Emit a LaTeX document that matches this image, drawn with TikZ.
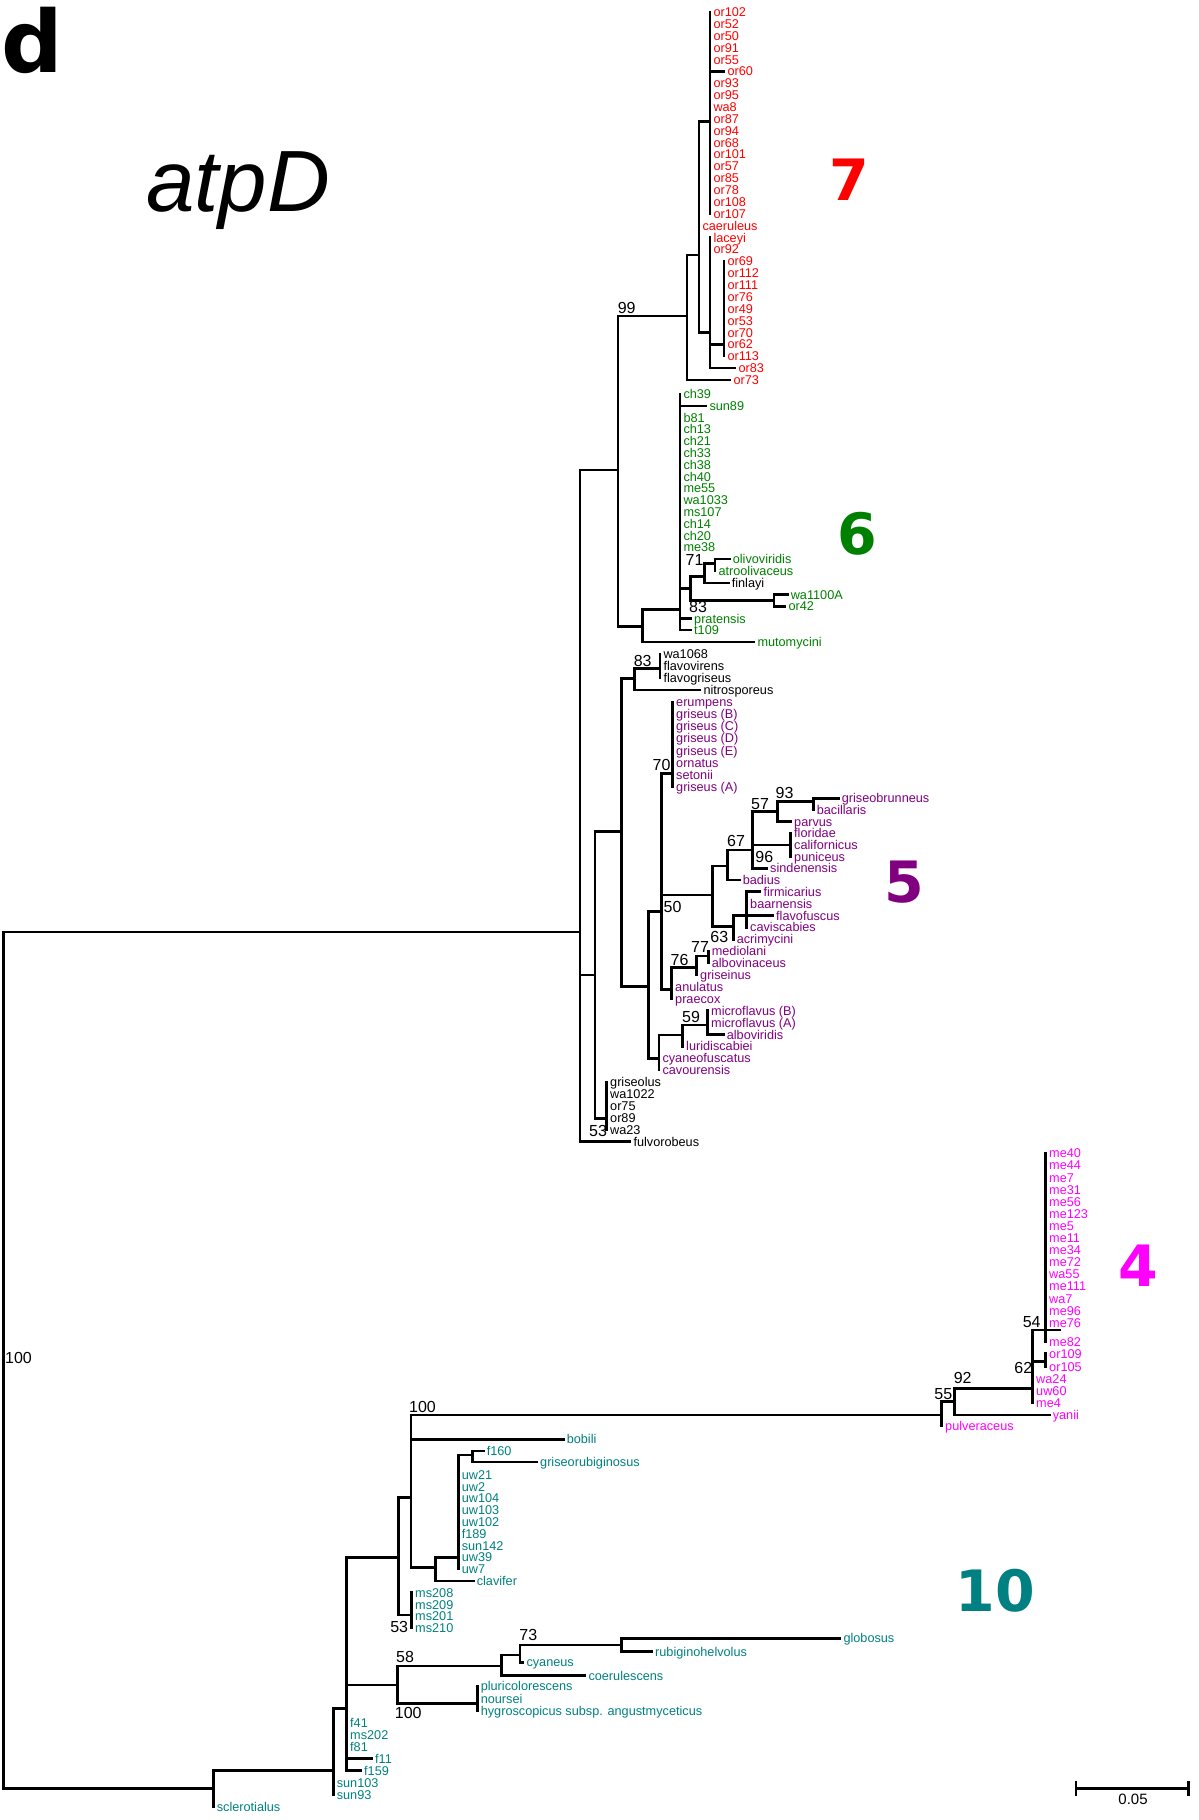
\documentclass[tikz,border=0pt]{standalone}
\usepackage{fontspec}
\setmainfont{Liberation Sans}
\newfontfamily\dvs{DejaVu Sans}
\definecolor{c7}{RGB}{255,0,0}
\definecolor{c6}{RGB}{0,128,0}
\definecolor{c5}{RGB}{128,0,128}
\definecolor{c4}{RGB}{255,0,255}
\definecolor{c10}{RGB}{0,128,128}
\newcommand\leafx[5]{\coordinate (#1) at (#2,#3);\node[lab,text=#5] (#1t) at ({#2+3.3},{#3+4.5}) {#4};}
\tikzset{
  br/.style={line width=2.5pt, line cap=rect, black},
  lab/.style={anchor=base west, inner sep=0pt, font=\fontsize{12.7}{14}\selectfont},
  bs/.style={anchor=center, inner sep=0pt, font=\fontsize{16}{16}\selectfont},
  big/.style={anchor=center, inner sep=0pt, font=\dvs\bfseries\fontsize{57}{57}\selectfont}
}
\begin{document}
\begin{tikzpicture}[x=1pt,y=-1pt]
\useasboundingbox (0,0) rectangle (1199,1820);
% ---------- leaves: clade 7
\leafx{L0}{710}{12.0}{or102}{c7}
\leafx{L1}{710}{23.9}{or52}{c7}
\leafx{L2}{710}{35.7}{or50}{c7}
\leafx{L3}{710}{47.6}{or91}{c7}
\leafx{L4}{710}{59.5}{or55}{c7}
\leafx{L5}{724}{71.4}{or60}{c7}
\leafx{L6}{710}{83.2}{or93}{c7}
\leafx{L7}{710}{95.1}{or95}{c7}
\leafx{L8}{710}{107.0}{wa8}{c7}
\leafx{L9}{710}{118.8}{or87}{c7}
\leafx{L10}{710}{130.7}{or94}{c7}
\leafx{L11}{710}{142.6}{or68}{c7}
\leafx{L12}{710}{154.4}{or101}{c7}
\leafx{L13}{710}{166.3}{or57}{c7}
\leafx{L14}{710}{178.2}{or85}{c7}
\leafx{L15}{710}{190.1}{or78}{c7}
\leafx{L16}{710}{201.9}{or108}{c7}
\leafx{L17}{710}{213.8}{or107}{c7}
\leafx{L18}{699}{225.7}{caeruleus}{c7}
\leafx{L19}{710}{237.5}{laceyi}{c7}
\leafx{L20}{710}{249.4}{or92}{c7}
\leafx{L21}{724}{261.3}{or69}{c7}
\leafx{L22}{724}{273.1}{or112}{c7}
\leafx{L23}{724}{285.0}{or111}{c7}
\leafx{L24}{724}{296.9}{or76}{c7}
\leafx{L25}{724}{308.8}{or49}{c7}
\leafx{L26}{724}{320.6}{or53}{c7}
\leafx{L27}{724}{332.5}{or70}{c7}
\leafx{L28}{724}{344.4}{or62}{c7}
\leafx{L29}{724}{356.2}{or113}{c7}
\leafx{L30}{735}{368.1}{or83}{c7}
\leafx{L31}{730}{380.0}{or73}{c7}
% ---------- clade 6
\leafx{L32}{680}{394.0}{ch39}{c6}
\leafx{L33}{706}{405.8}{sun89}{c6}
\leafx{L34}{680}{417.6}{b81}{c6}
\leafx{L35}{680}{429.4}{ch13}{c6}
\leafx{L36}{680}{441.2}{ch21}{c6}
\leafx{L37}{680}{453.0}{ch33}{c6}
\leafx{L38}{680}{464.8}{ch38}{c6}
\leafx{L39}{680}{476.6}{ch40}{c6}
\leafx{L40}{680}{488.4}{me55}{c6}
\leafx{L41}{680}{500.2}{wa1033}{c6}
\leafx{L42}{680}{512.0}{ms107}{c6}
\leafx{L43}{680}{523.8}{ch14}{c6}
\leafx{L44}{680}{535.6}{ch20}{c6}
\leafx{L45}{680}{547.4}{me38}{c6}
\leafx{L46}{729.3}{559.2}{olivoviridis}{c6}
\leafx{L47}{715}{571.0}{atroolivaceus}{c6}
\leafx{L48}{728.3}{582.8}{finlayi}{black}
\leafx{L49}{787.3}{594.6}{wa1100A}{c6}
\leafx{L50}{785}{606.4}{or42}{c6}
\leafx{L51}{690.7}{618.6}{pratensis}{c6}
\leafx{L52}{690.7}{630.2}{t109}{c6}
\leafx{L53}{754}{641.8}{mutomycini}{c6}
% ---------- clade 5 and others
\leafx{L54}{660}{654.0}{wa1068}{black}
\leafx{L55}{660}{666.1}{flavovirens}{black}
\leafx{L56}{660}{678.1}{flavogriseus}{black}
\leafx{L57}{700}{690.2}{nitrosporeus}{black}
\leafx{L58}{672.7}{702.2}{erumpens}{c5}
\leafx{L59}{672.7}{714.3}{griseus (B)}{c5}
\leafx{L60}{672.7}{726.4}{griseus (C)}{c5}
\leafx{L61}{672.7}{738.4}{griseus (D)}{c5}
\leafx{L62}{672.7}{750.5}{griseus (E)}{c5}
\leafx{L63}{672.7}{762.5}{ornatus}{c5}
\leafx{L64}{672.7}{774.6}{setonii}{c5}
\leafx{L65}{672.7}{786.7}{griseus (A)}{c5}
\leafx{L66}{838.3}{798.4}{griseobrunneus}{c5}
\leafx{L67}{813.3}{810.0}{bacillaris}{c5}
\leafx{L68}{790.7}{821.7}{parvus}{c5}
\leafx{L69}{790.7}{833.3}{floridae}{c5}
\leafx{L70}{790.7}{845.0}{californicus}{c5}
\leafx{L71}{790.7}{856.7}{puniceus}{c5}
\leafx{L72}{766.7}{868.3}{sindenensis}{c5}
\leafx{L73}{739.3}{880.0}{badius}{c5}
\leafx{L74}{760}{891.7}{firmicarius}{c5}
\leafx{L75}{746.7}{903.6}{baarnensis}{c5}
\leafx{L76}{772.7}{915.5}{flavofuscus}{c5}
\leafx{L77}{746.7}{927.4}{caviscabies}{c5}
\leafx{L78}{733.3}{939.3}{acrimycini}{c5}
\leafx{L79}{708.3}{951.2}{mediolani}{c5}
\leafx{L80}{708.3}{963.1}{albovinaceus}{c5}
\leafx{L81}{696.7}{975.0}{griseinus}{c5}
\leafx{L82}{671.7}{986.9}{anulatus}{c5}
\leafx{L83}{671.7}{998.8}{praecox}{c5}
\leafx{L84}{707.7}{1010.7}{microflavus (B)}{c5}
\leafx{L85}{707.7}{1022.6}{microflavus (A)}{c5}
\leafx{L86}{723.3}{1034.5}{alboviridis}{c5}
\leafx{L87}{682.7}{1046.4}{luridiscabiei}{c5}
\leafx{L88}{659}{1058.3}{cyaneofuscatus}{c5}
\leafx{L89}{659}{1070.2}{cavourensis}{c5}
\leafx{L90}{606.7}{1082.1}{griseolus}{black}
\leafx{L91}{606.7}{1094.0}{wa1022}{black}
\leafx{L92}{606.7}{1105.9}{or75}{black}
\leafx{L93}{606.7}{1117.8}{or89}{black}
\leafx{L94}{606.7}{1129.7}{wa23}{black}
\leafx{L95}{630}{1141.6}{fulvorobeus}{black}
% ---------- clade 4
\leafx{L96}{1045.7}{1153.3}{me40}{c4}
\leafx{L97}{1045.7}{1165.4}{me44}{c4}
\leafx{L98}{1045.7}{1177.5}{me7}{c4}
\leafx{L99}{1045.7}{1189.6}{me31}{c4}
\leafx{L100}{1045.7}{1201.7}{me56}{c4}
\leafx{L101}{1045.7}{1213.8}{me123}{c4}
\leafx{L102}{1045.7}{1225.9}{me5}{c4}
\leafx{L103}{1045.7}{1238.0}{me11}{c4}
\leafx{L104}{1045.7}{1250.1}{me34}{c4}
\leafx{L105}{1045.7}{1262.2}{me72}{c4}
\leafx{L106}{1045.7}{1274.3}{wa55}{c4}
\leafx{L107}{1045.7}{1286.4}{me111}{c4}
\leafx{L108}{1045.7}{1298.5}{wa7}{c4}
\leafx{L109}{1045.7}{1310.6}{me96}{c4}
\leafx{L110}{1045.7}{1322.7}{me76}{c4}
\leafx{L111}{1045.7}{1341.7}{me82}{c4}
\leafx{L112}{1045.7}{1353.7}{or109}{c4}
\leafx{L113}{1045.7}{1366.5}{or105}{c4}
\leafx{L114}{1032.7}{1379.0}{wa24}{c4}
\leafx{L115}{1032.7}{1391.0}{uw60}{c4}
\leafx{L116}{1032.7}{1403.0}{me4}{c4}
\leafx{L117}{1049.3}{1415.0}{yanii}{c4}
\leafx{L118}{941.7}{1426.0}{pulveraceus}{c4}
% ---------- clade 10
\leafx{L119}{563.3}{1439.3}{bobili}{c10}
\leafx{L120}{483.3}{1451.1}{f160}{c10}
\leafx{L121}{536.7}{1462.0}{griseorubiginosus}{c10}
\leafx{L122}{458.3}{1474.7}{uw21}{c10}
\leafx{L123}{458.3}{1486.5}{uw2}{c10}
\leafx{L124}{458.3}{1498.3}{uw104}{c10}
\leafx{L125}{458.3}{1510.1}{uw103}{c10}
\leafx{L126}{458.3}{1521.9}{uw102}{c10}
\leafx{L127}{458.3}{1533.7}{f189}{c10}
\leafx{L128}{458.3}{1545.5}{sun142}{c10}
\leafx{L129}{458.3}{1557.3}{uw39}{c10}
\leafx{L130}{458.3}{1569.1}{uw7}{c10}
\leafx{L131}{473.3}{1580.9}{clavifer}{c10}
\leafx{L132}{411.7}{1592.7}{ms208}{c10}
\leafx{L133}{411.7}{1604.5}{ms209}{c10}
\leafx{L134}{411.7}{1616.3}{ms201}{c10}
\leafx{L135}{411.7}{1628.1}{ms210}{c10}
\leafx{L136}{840}{1638.3}{globosus}{c10}
\leafx{L137}{651.7}{1651.5}{rubiginohelvolus}{c10}
\leafx{L138}{523}{1662.4}{cyaneus}{c10}
\leafx{L139}{585}{1675.5}{coerulescens}{c10}
\leafx{L140}{477.3}{1686.4}{pluricolorescens}{c10}
\leafx{L141}{477.3}{1698.5}{noursei}{c10}
\leafx{L142}{477.3}{1710.5}{hygroscopicus subsp. angustmyceticus}{c10}
\leafx{L143}{346.7}{1722.5}{f41}{c10}
\leafx{L144}{346.7}{1734.5}{ms202}{c10}
\leafx{L145}{346.7}{1746.6}{f81}{c10}
\leafx{L146}{371.7}{1758.6}{f11}{c10}
\leafx{L147}{360.7}{1770.6}{f159}{c10}
\leafx{L148}{333.3}{1782.7}{sun103}{c10}
\leafx{L149}{333.3}{1794.7}{sun93}{c10}
\leafx{L150}{213.3}{1806.7}{sclerotialus}{c10}
% ---------- internal nodes
\coordinate (n7a) at (710,121.7);
\coordinate (n7c) at (724,344.4);
\coordinate (n7b) at (710,332.3);
\coordinate (X1) at (699,255);
\coordinate (X0) at (687,316);
\coordinate (N99) at (618,470);
\coordinate (n6a) at (680,609.3);
\coordinate (n83a) at (690.7,588.3);
\coordinate (n71) at (704.3,576.7);
\coordinate (nOA) at (715,563.3);
\coordinate (nW) at (774,600.5);
\coordinate (N6) at (642.7,626.7);
\coordinate (nF) at (660,668.3);
\coordinate (nG83) at (634.3,678.3);
\coordinate (nGr) at (672.7,773.3);
\coordinate (n813) at (813.3,801.7);
\coordinate (n777) at (777.3,811.7);
\coordinate (nFCP) at (790.7,845.0);
\coordinate (n57) at (752.3,850);
\coordinate (n67) at (727.7,866);
\coordinate (n746) at (746.7,915.5);
\coordinate (n63) at (733.3,926.7);
\coordinate (n712) at (712.7,895);
\coordinate (n708) at (708.3,956);
\coordinate (n77) at (696.7,967.3);
\coordinate (n76) at (671.7,989.3);
\coordinate (n50) at (661.7,911.7);
\coordinate (n707) at (707.7,1025);
\coordinate (n59) at (682.7,1035);
\coordinate (n659) at (659,1058.3);
\coordinate (n648) at (648.3,986.7);
\coordinate (n621) at (621.7,831.7);
\coordinate (n53a) at (606.7,1118.3);
\coordinate (n595) at (595,975);
\coordinate (nTop) at (580,932);
\coordinate (n54) at (1045.7,1330);
\coordinate (tX) at (1060,1330);
\coordinate (nOr) at (1045.7,1361.7);
\coordinate (n62) at (1032.7,1388.3);
\coordinate (n92) at (954.3,1401.7);
\coordinate (n55) at (941.7,1415);
\coordinate (n100) at (411,1497.3);
\coordinate (n472) at (472.7,1455);
\coordinate (n458) at (458.3,1557.3);
\coordinate (n435) at (435.7,1567.7);
\coordinate (n53b) at (411.7,1615);
\coordinate (n398) at (398.3,1557.3);
\coordinate (n621b) at (621.7,1645);
\coordinate (n520) at (520,1655);
\coordinate (n501) at (501.7,1666);
\coordinate (nPNH) at (477.3,1703.3);
\coordinate (n58) at (397.3,1685);
\coordinate (n346) at (346.7,1708.3);
\coordinate (n333) at (333.3,1770.6);
\coordinate (nBot) at (213.3,1788.3);
\coordinate (root) at (3.5,932);
% ---------- branches
\foreach \i in {0,...,17} {\draw[br] (n7a) |- (L\i);}
\foreach \i in {21,...,29} {\draw[br] (n7c) |- (L\i);}
\foreach \c in {L19,L20,n7c,L30} {\draw[br] (n7b) |- (\c);}
\foreach \c in {n7a,L18,n7b} {\draw[br] (X1) |- (\c);}
\foreach \c in {X1,L31} {\draw[br] (X0) |- (\c);}
\foreach \c in {X0,N6} {\draw[br] (N99) |- (\c);}
\foreach \i in {32,...,45} {\draw[br] (n6a) |- (L\i);}
\foreach \c in {n83a,L51,L52} {\draw[br] (n6a) |- (\c);}
\foreach \c in {n71,nW} {\draw[br] (n83a) |- (\c);}
\foreach \c in {nOA,L48} {\draw[br] (n71) |- (\c);}
\foreach \c in {L46,L47} {\draw[br] (nOA) |- (\c);}
\foreach \c in {L49,L50} {\draw[br] (nW) |- (\c);}
\foreach \c in {n6a,L53} {\draw[br] (N6) |- (\c);}
\foreach \c in {L54,L55,L56} {\draw[br] (nF) |- (\c);}
\foreach \c in {nF,L57} {\draw[br] (nG83) |- (\c);}
\foreach \i in {58,...,65} {\draw[br] (nGr) |- (L\i);}
\foreach \c in {L66,L67} {\draw[br] (n813) |- (\c);}
\foreach \c in {n813,L68} {\draw[br] (n777) |- (\c);}
\foreach \c in {L69,L70,L71} {\draw[br] (nFCP) |- (\c);}
\foreach \c in {n777,nFCP,L72} {\draw[br] (n57) |- (\c);}
\foreach \c in {n57,L73} {\draw[br] (n67) |- (\c);}
\foreach \c in {L74,L75,L76,L77} {\draw[br] (n746) |- (\c);}
\foreach \c in {n746,L78} {\draw[br] (n63) |- (\c);}
\foreach \c in {n67,n63} {\draw[br] (n712) |- (\c);}
\foreach \c in {L79,L80} {\draw[br] (n708) |- (\c);}
\foreach \c in {n708,L81} {\draw[br] (n77) |- (\c);}
\foreach \c in {n77,L82,L83} {\draw[br] (n76) |- (\c);}
\foreach \c in {nGr,n712,n76} {\draw[br] (n50) |- (\c);}
\foreach \c in {L84,L85,L86} {\draw[br] (n707) |- (\c);}
\foreach \c in {n707,L87} {\draw[br] (n59) |- (\c);}
\foreach \c in {n59,L88,L89} {\draw[br] (n659) |- (\c);}
\foreach \c in {n50,n659} {\draw[br] (n648) |- (\c);}
\foreach \c in {nG83,n648} {\draw[br] (n621) |- (\c);}
\foreach \i in {90,...,94} {\draw[br] (n53a) |- (L\i);}
\foreach \c in {n621,n53a} {\draw[br] (n595) |- (\c);}
\foreach \c in {N99,n595,L95} {\draw[br] (nTop) |- (\c);}
\foreach \i in {96,...,111} {\draw[br] (n54) |- (L\i);}
\draw[br] (n54) |- (tX);
\foreach \c in {L112,L113} {\draw[br] (nOr) |- (\c);}
\foreach \c in {n54,nOr,L114,L115,L116} {\draw[br] (n62) |- (\c);}
\foreach \c in {n62,L117} {\draw[br] (n92) |- (\c);}
\foreach \c in {n92,L118} {\draw[br] (n55) |- (\c);}
\foreach \c in {n55,L119,n435} {\draw[br] (n100) |- (\c);}
\foreach \c in {L120,L121} {\draw[br] (n472) |- (\c);}
\foreach \i in {122,...,130} {\draw[br] (n458) |- (L\i);}
\draw[br] (n458) |- (n472);
\foreach \c in {n458,L131} {\draw[br] (n435) |- (\c);}
\foreach \i in {132,...,135} {\draw[br] (n53b) |- (L\i);}
\foreach \c in {n100,n53b} {\draw[br] (n398) |- (\c);}
\foreach \c in {L136,L137} {\draw[br] (n621b) |- (\c);}
\foreach \c in {n621b,L138} {\draw[br] (n520) |- (\c);}
\foreach \c in {n520,L139} {\draw[br] (n501) |- (\c);}
\foreach \i in {140,141,142} {\draw[br] (nPNH) |- (L\i);}
\foreach \c in {n501,nPNH} {\draw[br] (n58) |- (\c);}
\foreach \c in {n398,n58,L143,L144,L145,L146,L147} {\draw[br] (n346) |- (\c);}
\foreach \c in {n346,L148,L149} {\draw[br] (n333) |- (\c);}
\foreach \c in {n333,L150} {\draw[br] (nBot) |- (\c);}
\foreach \c in {nTop,nBot} {\draw[br] (root) |- (\c);}
% ---------- bootstrap values
\node[bs] (b99) at (626.7,307.5) {99};
\node[bs] (b83a) at (698,607.2) {83};
\node[bs] (b71) at (694.5,560) {71};
\node[bs] (b83b) at (642.7,660.5) {83};
\node[bs] (b70) at (661.5,765) {70};
\node[bs] (b93) at (784.5,792.5) {93};
\node[bs] (b57) at (760,804) {57};
\node[bs] (b67) at (736,841) {67};
\node[bs] (b96) at (764.3,857) {96};
\node[bs] (b50) at (672.5,907) {50};
\node[bs] (b63) at (719.3,937) {63};
\node[bs] (b77) at (700,947) {77};
\node[bs] (b76) at (679.5,959.5) {76};
\node[bs] (b59) at (691,1017) {59};
\node[bs] (b53a) at (598,1130.5) {53};
\node[bs] (b100r) at (18.5,1358) {100};
\node[bs] (b54) at (1031.7,1322) {54};
\node[bs] (b62) at (1023.3,1368.3) {62};
\node[bs] (b92) at (962.7,1378.3) {92};
\node[bs] (b55) at (943.3,1394) {55};
\node[bs] (b100a) at (422.5,1406.5) {100};
\node[bs] (b53b) at (399.2,1627.2) {53};
\node[bs] (b73) at (528.3,1635) {73};
\node[bs] (b58) at (405,1657.2) {58};
\node[bs] (b100b) at (408.3,1713.3) {100};
% ---------- clade numbers
\node[big,text=c7] (g7) at (849.6,180) {7};
\node[big,text=c6] (g6) at (857,534) {6};
\node[big,text=c5] (g5) at (904,882) {5};
\node[big,text=c4] (g4) at (1138,1265.5) {4};
\node[big,text=c10] (g10) at (995,1591) {10};
% ---------- panel letter and gene name
\node[anchor=center, inner sep=0pt, font=\dvs\bfseries\fontsize{86}{86}\selectfont] (panel) at (32.5,40.5) {d};
\node[anchor=base west, inner sep=0pt, font=\itshape\fontsize{87}{87}\selectfont] (gene) at (146,211.7) {atpD};
% ---------- scale bar
\coordinate (sbL) at (1076,1788.3);
\coordinate (sbR) at (1188.3,1788.3);
\coordinate (sbLa) at (1076,1782);
\coordinate (sbLb) at (1076,1794.5);
\coordinate (sbRa) at (1188.3,1782);
\coordinate (sbRb) at (1188.3,1794.5);
\draw[br] (sbL) -- (sbR);
\draw[br] (sbLa) -- (sbLb);
\draw[br] (sbRa) -- (sbRb);
\node[anchor=center, inner sep=0pt, font=\fontsize{15}{15}\selectfont] (sbt) at (1133,1799.7) {0.05};
\end{tikzpicture}
\end{document}
